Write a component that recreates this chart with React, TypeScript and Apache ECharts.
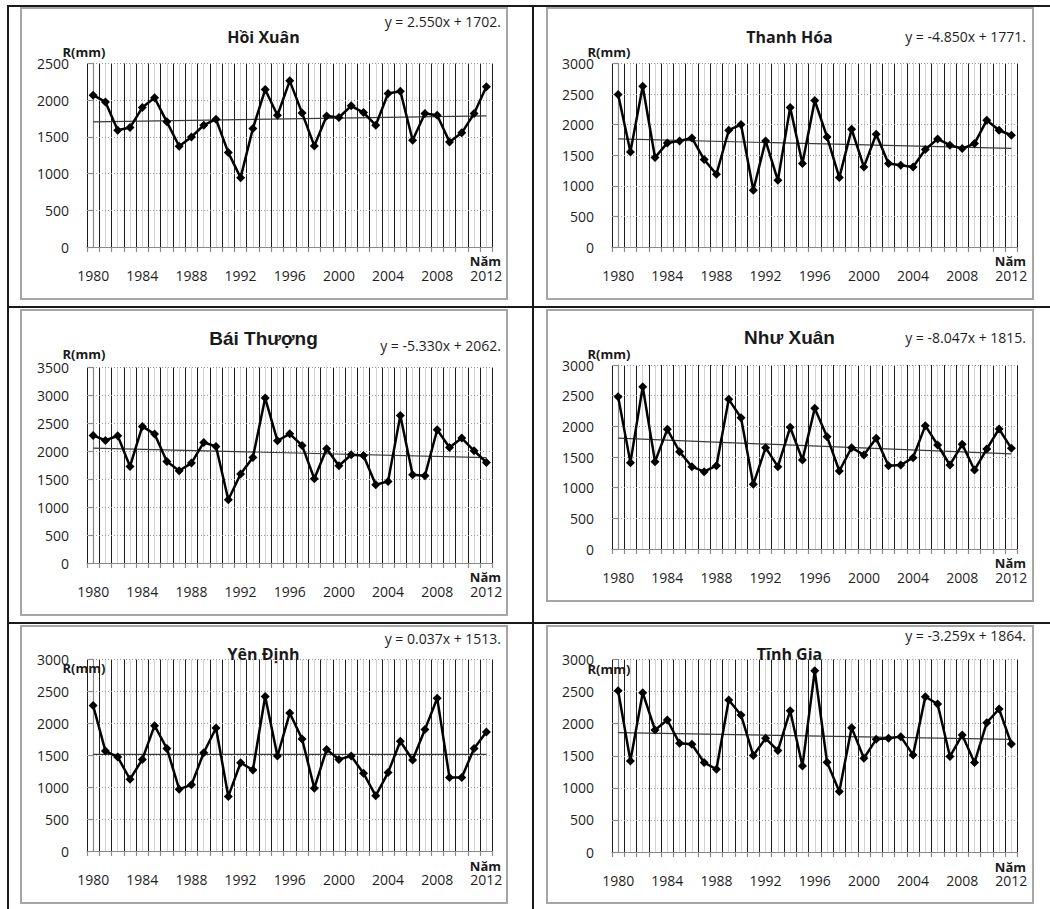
import React, { useEffect, useRef } from "react";
import * as echarts from "echarts";

// ---------- DATA ----------
const years = [
  "1980", "1981", "1982", "1983", "1984", "1985", "1986", "1987", "1988", "1989", "1990",
  "1991", "1992", "1993", "1994", "1995", "1996", "1997", "1998", "1999", "2000",
  "2001", "2002", "2003", "2004", "2005", "2006", "2007", "2008", "2009", "2010",
  "2011", "2012",
];

const stationNames = ["Hồi Xuân", "Thanh Hóa", "Bái Thượng", "Như Xuân", "Yên Định", "Tĩnh Gia"];

const hoiXuan = [2068, 1977, 1591, 1627, 1900, 2032, 1705, 1373, 1500, 1659, 1741, 1286, 945, 1614, 2145, 1795, 2264, 1827, 1377, 1786, 1764, 1923, 1832, 1659, 2091, 2123, 1455, 1818, 1795, 1432, 1555, 1818, 2182];
const thanhHoa = [2493, 1555, 2629, 1462, 1702, 1735, 1784, 1429, 1189, 1909, 2002, 927, 1735, 1091, 2280, 1364, 2395, 1800, 1135, 1925, 1309, 1844, 1364, 1336, 1309, 1593, 1767, 1664, 1609, 1691, 2073, 1909, 1827];
const baiThuong = [2284, 2194, 2278, 1729, 2445, 2308, 1819, 1652, 1789, 2158, 2087, 1133, 1592, 1890, 2952, 2188, 2313, 2105, 1509, 2045, 1741, 1938, 1926, 1401, 1461, 2641, 1580, 1562, 2385, 2069, 2236, 2009, 1801];
const nhuXuan = [2484, 1408, 2647, 1424, 1951, 1587, 1342, 1261, 1359, 2440, 2141, 1054, 1652, 1342, 1984, 1451, 2293, 1832, 1272, 1652, 1533, 1804, 1359, 1370, 1489, 2011, 1696, 1370, 1707, 1288, 1630, 1957, 1641];
const yenDinh = [2280, 1565, 1472, 1124, 1435, 1964, 1606, 969, 1036, 1539, 1927, 855, 1383, 1269, 2420, 1487, 2161, 1756, 984, 1591, 1435, 1487, 1218, 865, 1228, 1720, 1425, 1902, 2394, 1150, 1150, 1606, 1865];
const tinhGia = [2513, 1420, 2482, 1902, 2057, 1694, 1679, 1394, 1290, 2368, 2135, 1503, 1772, 1580, 2202, 1342, 2824, 1399, 943, 1938, 1461, 1756, 1772, 1798, 1513, 2420, 2306, 1487, 1824, 1394, 2016, 2228, 1684];

const seriesData = [hoiXuan, thanhHoa, baiThuong, nhuXuan, yenDinh, tinhGia];

// linear trend lines (Excel trendline, x = 1..33)
const trendSlopes = [2.55, -4.85, -5.33, -8.047, 0.037, -3.259];
const trendIntercepts = [1702, 1771, 2062, 1815, 1513, 1864];
const equations = [
  "y = 2.550x + 1702.",
  "y = -4.850x + 1771.",
  "y = -5.330x + 2062.",
  "y = -8.047x + 1815.",
  "y = 0.037x + 1513.",
  "y = -3.259x + 1864.",
];

const yMax = [2500, 3000, 3500, 3000, 3000, 3000];
const yInterval = 500;

const yLabel = "R(mm)";
const xLabel = "Năm";

// ---------- LAYOUT ----------
const FONT = "'Open Sans', 'Noto Sans', sans-serif";
const TXT = "#1e1e1e";

type Panel = {
  box: [number, number, number, number]; // x0, y0, x1, y1
  plot: [number, number, number, number];
  title: [number, number];
  titleFont: string;
  eq: [number, number];
  r: [number, number];
  nam: [number, number];
};

const L_BOX: [number, number] = [20, 508];
const R_BOX: [number, number] = [546, 1034];
const L_PLOT: [number, number] = [87, 492.5];
const R_PLOT: [number, number] = [612, 1017.5];

const panels: Panel[] = [
  {
    box: [L_BOX[0], 7, L_BOX[1], 300],
    plot: [L_PLOT[0], 63.5, L_PLOT[1], 247],
    title: [263.5, 36.5],
    titleFont: `bold 16px ${FONT}`,
    eq: [501, 21],
    r: [62.5, 52],
    nam: [501, 261],
  },
  {
    box: [R_BOX[0], 7, R_BOX[1], 300],
    plot: [R_PLOT[0], 63.5, R_PLOT[1], 247],
    title: [789.5, 36.5],
    titleFont: `bold 16px ${FONT}`,
    eq: [1026, 36],
    r: [587.5, 52],
    nam: [1026, 261],
  },
  {
    box: [L_BOX[0], 309, L_BOX[1], 616],
    plot: [L_PLOT[0], 367.5, L_PLOT[1], 563],
    title: [263.5, 338],
    titleFont: `bold 19px 'Liberation Sans', Arial, sans-serif`,
    eq: [501, 345.5],
    r: [62.5, 354],
    nam: [501, 577],
  },
  {
    box: [R_BOX[0], 309, R_BOX[1], 602],
    plot: [R_PLOT[0], 365, R_PLOT[1], 549],
    title: [789.5, 337],
    titleFont: `bold 19px 'Liberation Sans', Arial, sans-serif`,
    eq: [1026, 337],
    r: [587.5, 353.5],
    nam: [1026, 563],
  },
  {
    box: [L_BOX[0], 625, L_BOX[1], 904],
    plot: [L_PLOT[0], 659.5, L_PLOT[1], 851],
    title: [263.5, 654],
    titleFont: `bold 16px ${FONT}`,
    eq: [501, 638.5],
    r: [62.5, 667.5],
    nam: [501, 866],
  },
  {
    box: [R_BOX[0], 625, R_BOX[1], 904],
    plot: [R_PLOT[0], 659.5, R_PLOT[1], 852],
    title: [789.5, 654],
    titleFont: `bold 16px ${FONT}`,
    eq: [1026, 635],
    r: [587.5, 668.5],
    nam: [1026, 867],
  },
];

function buildOption() {
  const grid: any[] = [];
  const xAxis: any[] = [];
  const yAxis: any[] = [];
  const series: any[] = [];
  const graphic: any[] = [];

  // table lines
  const black = "#1a1a1a";
  graphic.push(
    { type: "rect", shape: { x: 7, y: 5, width: 1043, height: 2 }, style: { fill: black }, z: 10 },
    { type: "rect", shape: { x: 7, y: 5, width: 2, height: 904 }, style: { fill: black }, z: 10 },
    { type: "rect", shape: { x: 532, y: 5, width: 2, height: 904 }, style: { fill: black }, z: 10 },
    { type: "rect", shape: { x: 7, y: 306, width: 1043, height: 2 }, style: { fill: black }, z: 10 },
    { type: "rect", shape: { x: 7, y: 622, width: 1043, height: 2 }, style: { fill: black }, z: 10 }
  );

  panels.forEach((p, i) => {
    const [px0, py0, px1, py1] = p.plot;
    grid.push({ left: px0, top: py0, width: px1 - px0, height: py1 - py0, containLabel: false });

    xAxis.push({
      type: "category",
      gridIndex: i,
      data: years,
      boundaryGap: true,
      z: 3,
      axisLine: { show: true, onZero: false, lineStyle: { color: "#8a8a8a", width: 1.2 } },
      axisTick: { show: true, interval: 0, length: 5, lineStyle: { color: "#8a8a8a", width: 1.2 } },
      axisLabel: { interval: 3, margin: 21, fontFamily: FONT, fontSize: 14, color: TXT },
      splitLine: { show: false },
    });
    // helper axis only for the vertical grid lines (dark at year boundaries, light at year centres)
    xAxis.push({
      type: "value",
      gridIndex: i,
      min: -0.5,
      max: years.length - 0.5,
      interval: 0.5,
      z: 1,
      axisLine: { show: false },
      axisTick: { show: false },
      axisLabel: { show: false },
      splitLine: { show: true, lineStyle: { color: ["#1c1c1c", "#d2d2d2"], width: 1 } },
    });

    yAxis.push({
      type: "value",
      gridIndex: i,
      min: 0,
      max: yMax[i],
      interval: yInterval,
      z: 3,
      axisLine: { show: true, lineStyle: { color: "#8a8a8a", width: 1.2 } },
      axisTick: { show: true, length: 5, lineStyle: { color: "#8a8a8a", width: 1.2 } },
      axisLabel: {
        margin: 18,
        fontFamily: FONT,
        fontSize: 14,
        color: TXT,
        formatter: (v: number) => String(v),
      },
      splitLine: { show: true, lineStyle: { color: "#9a9a9a", type: [1, 2], width: 1 } },
    });

    series.push({
      type: "line",
      xAxisIndex: 2 * i,
      yAxisIndex: i,
      data: seriesData[i],
      symbol: "diamond",
      symbolSize: 9,
      showAllSymbol: true,
      lineStyle: { color: "#000", width: 2.5 },
      itemStyle: { color: "#000" },
      z: 5,
    });

    const n = years.length;
    series.push({
      type: "line",
      xAxisIndex: 2 * i,
      yAxisIndex: i,
      data: [
        [0, trendSlopes[i] * 1 + trendIntercepts[i]],
        [n - 1, trendSlopes[i] * n + trendIntercepts[i]],
      ],
      symbol: "none",
      lineStyle: { color: "#3a3a3a", width: 1.2 },
      z: 4,
    });

    const [bx0, by0, bx1, by1] = p.box;
    graphic.push({
      type: "rect",
      shape: { x: bx0 + 1, y: by0 + 1, width: bx1 - bx0 - 2, height: by1 - by0 - 2 },
      style: { fill: "none", stroke: "#a6a6a6", lineWidth: 2 },
      z: 0,
    });
    graphic.push({
      type: "text",
      x: p.title[0],
      y: p.title[1],
      z: 20,
      style: { text: stationNames[i], font: p.titleFont, fill: "#1a1a1a", align: "center", verticalAlign: "middle" },
    });
    graphic.push({
      type: "text",
      x: p.eq[0],
      y: p.eq[1],
      z: 20,
      style: { text: equations[i], font: `14px ${FONT}`, fill: TXT, align: "right", verticalAlign: "middle" },
    });
    graphic.push({
      type: "text",
      x: p.r[0],
      y: p.r[1],
      z: 20,
      style: { text: yLabel, font: `bold 13px ${FONT}`, fill: "#1a1a1a", align: "left", verticalAlign: "middle" },
    });
    graphic.push({
      type: "text",
      x: p.nam[0],
      y: p.nam[1],
      z: 20,
      style: { text: xLabel, font: `bold 13px ${FONT}`, fill: "#1a1a1a", align: "right", verticalAlign: "middle" },
    });
  });

  return {
    animation: false,
    backgroundColor: "#ffffff",
    grid,
    xAxis,
    yAxis,
    series,
    graphic,
  };
}

export default function App() {
  const ref = useRef<HTMLDivElement>(null);
  useEffect(() => {
    if (!ref.current) return;
    const chart = echarts.init(ref.current, null, { renderer: "svg" });
    chart.setOption(buildOption());
    return () => chart.dispose();
  }, []);
  return (
    <div
      ref={ref}
      style={{ position: "absolute", left: 0, top: 0, width: 1050, height: 909, background: "#fff" }}
    />
  );
}
